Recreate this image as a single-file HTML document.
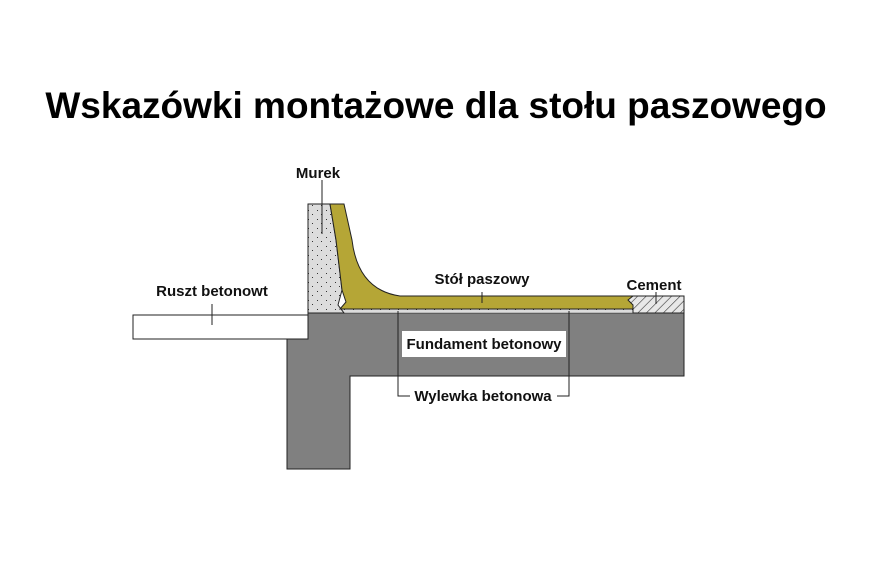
<!DOCTYPE html>
<html><head><style>
body{margin:0;background:#fff;}
svg{display:block}
text{font-family:"Liberation Sans",sans-serif;font-weight:bold;fill:#111}
</style></head><body>
<svg width="888" height="577" viewBox="0 0 888 577">
<defs>
<pattern id="h" width="6" height="6" patternUnits="userSpaceOnUse" patternTransform="rotate(45)">
<rect width="6" height="6" fill="#e8e8e8"/><line x1="0" y1="0" x2="0" y2="6" stroke="#333" stroke-width="1.2"/></pattern>
<pattern id="d" width="9" height="9" patternUnits="userSpaceOnUse">
<rect width="9" height="9" fill="#dcdcdc"/><rect x="2" y="3" width="1" height="1" fill="#333"/><rect x="6" y="7" width="1" height="1" fill="#333"/></pattern>
</defs>
<text x="436" y="118" font-size="37" text-anchor="middle" style="fill:#000">Wskazówki montażowe dla stołu paszowego</text>
<!-- foundation -->
<path d="M308 313 H684 V376 H350 V469 H287 V339 H308 Z" fill="#808080" stroke="#222" stroke-width="1"/>
<!-- ruszt -->
<rect x="133" y="315" width="175" height="24" fill="#fff" stroke="#222"/>
<line x1="212" y1="304" x2="212" y2="325" stroke="#222"/>
<!-- wylewka -->
<rect x="340" y="309" width="293" height="4" fill="url(#d)" stroke="#555" stroke-width="0.5"/>
<!-- wall -->
<path d="M308 204 H330 L336 240 L342 290 L338 305 L344 313 H308 Z" fill="url(#d)" stroke="#222"/>
<!-- yellow -->
<path d="M330 204 H344 L352 240 Q358 290 400 296 H633 V309 H340 L346 302 L342 290 L336 240 Z" fill="#b5a636" stroke="#222"/>
<!-- cement -->
<path d="M633 296 H684 V313 H633 V305 L628 300 Z" fill="url(#h)" stroke="#222"/>
<line x1="656" y1="292" x2="656" y2="304" stroke="#222"/>
<!-- labels -->
<text x="318" y="178" font-size="15" text-anchor="middle">Murek</text>
<line x1="322" y1="180" x2="322" y2="234" stroke="#222"/>
<text x="212" y="296" font-size="15" text-anchor="middle">Ruszt betonowt</text>
<text x="482" y="284" font-size="15" text-anchor="middle">Stół paszowy</text>
<line x1="482" y1="292" x2="482" y2="303" stroke="#222"/>
<text x="654" y="290" font-size="15" text-anchor="middle">Cement</text>
<rect x="402" y="331" width="164" height="26" fill="#fff"/>
<text x="484" y="349" font-size="15" text-anchor="middle">Fundament betonowy</text>
<path d="M398 311 V396 H410 M569 311 V396 H557" fill="none" stroke="#222"/>
<text x="483" y="401" font-size="15" text-anchor="middle">Wylewka betonowa</text>
</svg>
</body></html>
